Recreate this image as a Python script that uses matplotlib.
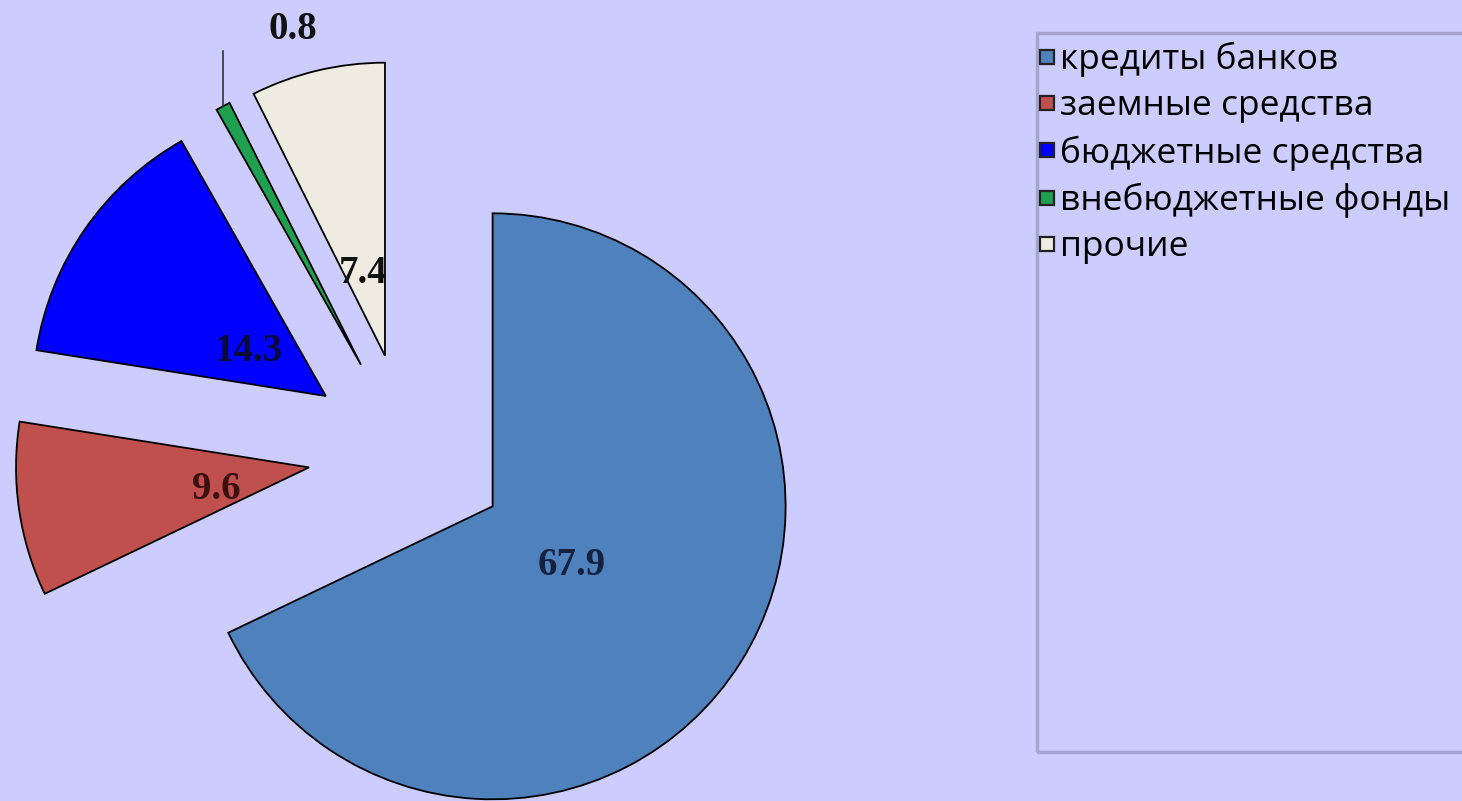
import numpy as np
import matplotlib.pyplot as plt
from matplotlib.patches import Rectangle
from matplotlib.lines import Line2D

# ── data ────────────────────────────────────────────────────────────────
categories = ["кредиты банков", "заемные средства", "бюджетные средства",
              "внебюджетные фонды", "прочие"]
values = [67.9, 9.6, 14.3, 0.8, 7.4]
labels = ["67.9", "9.6", "14.3", "0.8", "7.4"]

colors = ["#4F81BD", "#C0504D", "#0000FF", "#1FA050", "#EEECE1"]
label_colors = ["#14213F", "#3A0F0E", "#0A0A38", "#111111", "#111111"]
BG = "#CCCCFF"

W, H = 1462, 801
fig = plt.figure(figsize=(W / 100, H / 100), dpi=100, facecolor=BG)
ax = fig.add_axes([0, 0, 1, 1])
ax.set_facecolor(BG)

# pie in pixel units (y measured upward); explode is in data units here
cx, cy, R = 408, H - 453, 293
wedges, _ = ax.pie(values, colors=colors, explode=[100] * len(values),
                   startangle=90, counterclock=False, radius=R, center=(cx, cy),
                   wedgeprops=dict(edgecolor="black", linewidth=1.3))

txt_kw = dict(ha="center", va="center", fontsize=28, fontweight="bold",
              family="Liberation Serif")
for i, (w, lab) in enumerate(zip(wedges, labels)):
    mid = np.deg2rad((w.theta1 + w.theta2) / 2)
    d = np.array([np.cos(mid), np.sin(mid)])
    apex = np.array(w.center)
    if i == 3:
        # tiny slice: leader line above the outer arc
        tip = apex + R * d
        ax.plot([tip[0], tip[0]], [tip[1], tip[1] + 55], color="#333333", lw=1.2)
        ax.text(tip[0] + 70, tip[1] + 77, lab, color=label_colors[i], **txt_kw)
    else:
        pos = apex + 0.32 * R * d
        ax.text(pos[0], pos[1] - 9, lab, color=label_colors[i], **txt_kw)

ax.set_xlim(0, W)
ax.set_ylim(0, H)
ax.set_aspect("equal")
ax.axis("off")

# legend frame (runs off the right edge)
frame = Rectangle((1037 / W, 1 - 752 / H), 0.3, (752 - 33) / H,
                  transform=fig.transFigure, facecolor="none",
                  edgecolor="#A4A4CC", linewidth=2.5, clip_on=False)
fig.patches.append(frame)

handles = [Line2D([], [], marker="s", linestyle="none", markersize=10,
                  markerfacecolor=c, markeredgecolor="#222222", markeredgewidth=1.6)
           for c in colors]
leg = fig.legend(handles, categories, loc="upper left",
                 bbox_to_anchor=(1037 / W, 1 - 42 / H), frameon=False,
                 prop=dict(family="Open Sans", size=25.5), handlelength=0.55,
                 handletextpad=0.1, labelspacing=0.34, borderaxespad=0,
                 borderpad=0)

plt.savefig("out.png", dpi=100, facecolor=BG)
plt.close()
